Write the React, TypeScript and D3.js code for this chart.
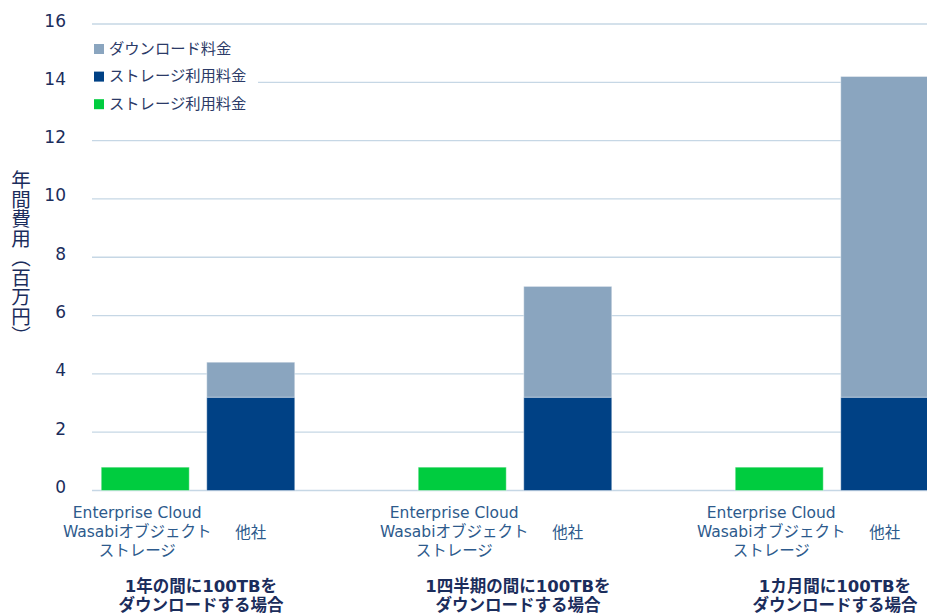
import React from "react"
import * as d3 from "d3"

// data
const groups = [
    ["1年の間に100TBを", "ダウンロードする場合"],
    ["1四半期の間に100TBを", "ダウンロードする場合"],
    ["1カ月間に100TBを", "ダウンロードする場合"],
]
const vendors = ["wasabi", "other"]
const vendorLabels = [["Enterprise Cloud", "Wasabiオブジェクト", "ストレージ"], ["他社"]]
const wasabiStorage = [0.8, 0.8, 0.8]
const otherStorage = [3.2, 3.2, 3.2]
const otherDownload = [1.2, 3.8, 11.0]
const yTicks = [0, 2, 4, 6, 8, 10, 12, 14, 16]
const legendItems = [
    {label: "ダウンロード料金", color: "#8aa5bf"},
    {label: "ストレージ利用料金", color: "#004185"},
    {label: "ストレージ利用料金", color: "#00cc3f"},
]

const W = 927
const H = 614
const FONT = "'DejaVu Sans', 'Noto Sans CJK JP', sans-serif"

const App = () => {
    const y = d3.scaleLinear().domain([0, 16]).range([490.5, 24])
    const x = d3.scaleBand<number>().domain([0, 1, 2]).range([39.5, 990.5])
    const inner = d3.scaleBand<string>().domain(vendors).range([0, x.bandwidth()])
        .paddingInner(0.166).paddingOuter(0.585)
    const bw = inner.bandwidth()

    const gridColor = "#c6d7e5"
    const tickColor = "#1b2d5c"
    const labelColor = "#2d5a8c"

    return (
        <svg width={W} height={H} style={{position: "absolute", left: 0, top: 0, display: "block"}}
             fontFamily={FONT}>
            <rect width={W} height={H} fill="white"/>
            {/* grid + y ticks */}
            {yTicks.map(t => (
                <g key={t}>
                    <line x1={92} x2={W} y1={y(t)} y2={y(t)} stroke={gridColor} strokeWidth={1.3}/>
                    <text x={66} y={y(t) - 2.5} textAnchor="end" dominantBaseline="middle"
                          fontSize={17} fill={tickColor}>{t}</text>
                </g>
            ))}
            {/* y axis title */}
            <text x={21} y={258} fontSize={19.5} fill={tickColor} textAnchor="middle"
                  style={{writingMode: "vertical-rl"} as any} fontFamily="'Noto Sans CJK JP', sans-serif">
                年間費用（百万円）
            </text>
            {/* bars */}
            {groups.map((g, i) => {
                const x0 = x(i)!
                const xw = x0 + inner("wasabi")!
                const xo = x0 + inner("other")!
                return (
                    <g key={i}>
                        <rect x={xw} width={bw} y={y(wasabiStorage[i])} height={y(0) - y(wasabiStorage[i])}
                              fill={legendItems[2].color} stroke="white" strokeOpacity={0.4} strokeWidth={1}/>
                        <rect x={xo} width={bw} y={y(otherStorage[i])} height={y(0) - y(otherStorage[i])}
                              fill={legendItems[1].color} stroke="white" strokeOpacity={0.4} strokeWidth={1}/>
                        <rect x={xo} width={bw} y={y(otherStorage[i] + otherDownload[i])}
                              height={y(otherStorage[i]) - y(otherStorage[i] + otherDownload[i])}
                              fill={legendItems[0].color} stroke="white" strokeOpacity={0.4} strokeWidth={1}/>
                        {/* category labels */}
                        <text textAnchor="middle" fontSize={15.5} fill={labelColor}>
                            {vendorLabels[0].map((s, k) => (
                                <tspan key={k} x={xw + bw / 2 - 8} y={518 + k * 19}>{s}</tspan>
                            ))}
                        </text>
                        <text x={xo + bw / 2} y={538} textAnchor="middle" fontSize={15.5}
                              fill={labelColor}>{vendorLabels[1][0]}</text>
                        <text textAnchor="middle" fontSize={16.5} fontWeight="bold" fill={tickColor}>
                            {g.map((s, k) => (
                                <tspan key={k} x={x0 + x.bandwidth() / 2 + 3} y={592 + k * 19}>{s}</tspan>
                            ))}
                        </text>
                    </g>
                )
            })}
            {/* legend */}
            <rect x={92} y={34} width={166} height={82} fill="white"/>
            {legendItems.map((d, i) => (
                <g key={i} transform={`translate(94, ${49 + i * 27.6})`}>
                    <rect x={0} y={-5} width={10} height={10} fill={d.color}/>
                    <text x={15} y={0} dominantBaseline="middle" fontSize={15.3}
                          fill="#2b3a67">{d.label}</text>
                </g>
            ))}
        </svg>
    )
}

export default App
